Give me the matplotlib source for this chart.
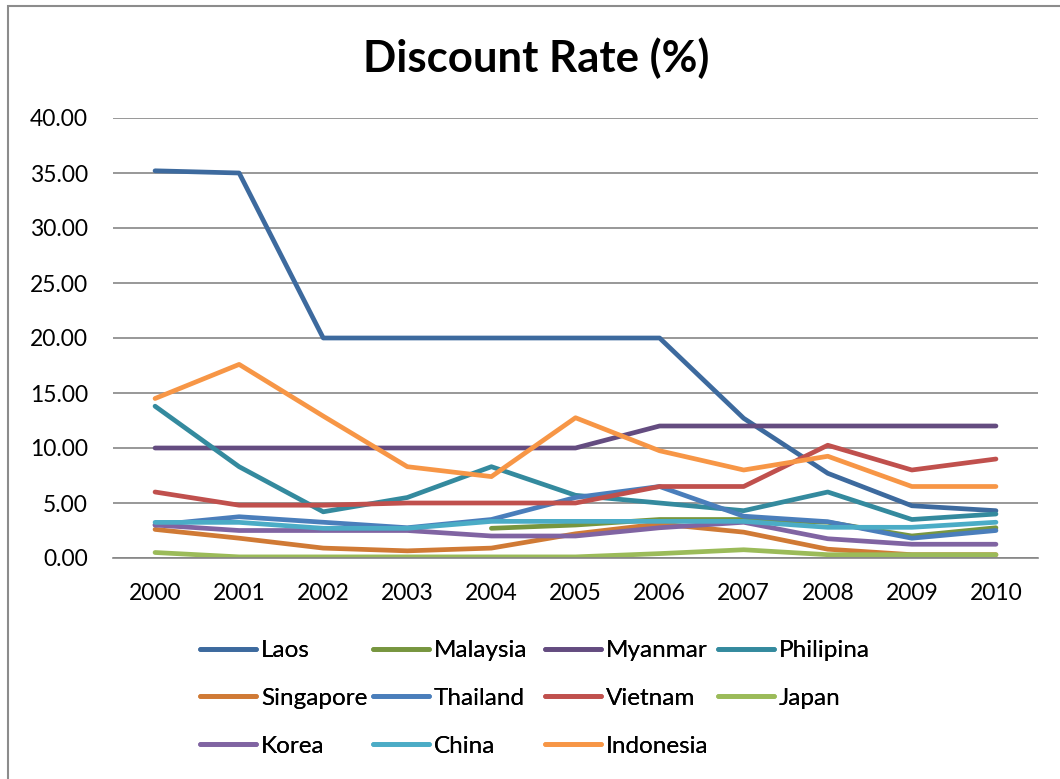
import matplotlib
matplotlib.use("Agg")
import matplotlib.pyplot as plt
from matplotlib.patches import Rectangle

plt.rcParams['font.family'] = ['Lato', 'DejaVu Sans']

years = ['2000', '2001', '2002', '2003', '2004', '2005', '2006', '2007', '2008', '2009', '2010']

laos      = [35.2, 35.0, 20.0, 20.0, 20.0, 20.0, 20.0, 12.7, 7.7, 4.75, 4.3]
malaysia  = [None, None, None, None, 2.7, 3.0, 3.5, 3.5, 3.25, 2.0, 2.75]
myanmar   = [10.0, 10.0, 10.0, 10.0, 10.0, 10.0, 12.0, 12.0, 12.0, 12.0, 12.0]
philipina = [13.8, 8.3, 4.2, 5.5, 8.3, 5.7, 5.0, 4.3, 6.0, 3.5, 4.0]
singapore = [2.6, 1.8, 0.9, 0.65, 0.9, 2.2, 3.1, 2.35, 0.8, 0.3, 0.3]
thailand  = [3.0, 3.75, 3.25, 2.75, 3.5, 5.5, 6.5, 3.8, 3.3, 1.8, 2.5]
vietnam   = [6.0, 4.8, 4.8, 5.0, 5.0, 5.0, 6.5, 6.5, 10.25, 8.0, 9.0]
japan     = [0.5, 0.1, 0.1, 0.1, 0.1, 0.1, 0.4, 0.75, 0.3, 0.3, 0.3]
korea     = [3.0, 2.5, 2.5, 2.5, 2.0, 2.0, 2.75, 3.25, 1.75, 1.25, 1.25]
china     = [3.24, 3.24, 2.7, 2.7, 3.33, 3.33, 3.33, 3.33, 2.79, 2.79, 3.25]
indonesia = [14.5, 17.6, 12.9, 8.3, 7.4, 12.75, 9.75, 8.0, 9.25, 6.5, 6.5]

names = ['Laos', 'Malaysia', 'Myanmar', 'Philipina', 'Singapore', 'Thailand',
         'Vietnam', 'Japan', 'Korea', 'China', 'Indonesia']
series = [laos, malaysia, myanmar, philipina, singapore, thailand,
          vietnam, japan, korea, china, indonesia]
colors = ['#3D6A9E', '#77963F', '#644C80', '#348A9E', '#D07A35', '#4A7EBB',
          '#C0504D', '#9BBB59', '#8064A2', '#4BACC6', '#F79646']

fig = plt.figure(figsize=(10.6, 7.79), dpi=100)
ax = fig.add_axes([113/1060, 1-558/779, 925/1060, 440/779])

# chart border (left and top visible)
fig.patches.append(Rectangle((8/1060, -0.1), 1.2, 1-6/779+0.1, transform=fig.transFigure,
                             fill=False, edgecolor='#8C8C8C', linewidth=1.5))

x = list(range(len(years)))
lines = {}
for name, vals, c in zip(names, series, colors):
    xs = [i for i, v in zip(x, vals) if v is not None]
    ys = [v for v in vals if v is not None]
    ln, = ax.plot(xs, ys, color=c, linewidth=3.4, solid_capstyle='round',
                  solid_joinstyle='round', label=name)
    lines[name] = ln

ax.set_xlim(-0.5, 10.5)
ax.set_ylim(0, 40)
ax.set_yticks(range(0, 41, 5))
ax.set_yticklabels(['%.2f' % v for v in range(0, 41, 5)])
ax.set_xticks(x)
ax.set_xticklabels(years)
ax.yaxis.grid(True, color='#868686', linewidth=1.2)
ax.set_axisbelow(True)
for s in ax.spines.values():
    s.set_visible(False)
ax.spines['bottom'].set_visible(True)
ax.spines['bottom'].set_color('#868686')
ax.spines['bottom'].set_linewidth(1.2)
ax.tick_params(axis='both', length=0, labelsize=16.5)
ax.tick_params(axis='y', pad=18)
ax.tick_params(axis='x', pad=18)

fig.text(536/1060, 1-58/779, 'Discount Rate (%)', fontsize=31.5, fontweight='bold',
         ha='center', va='center')

# Excel-style legend: 4 equal-width columns, filled row by row
columns = [['Laos', 'Singapore', 'Korea'],
           ['Malaysia', 'Thailand', 'China'],
           ['Myanmar', 'Vietnam', 'Indonesia'],
           ['Philipina', 'Japan']]
col_x = [200, 373, 545, 718]
for cx, col in zip(col_x, columns):
    leg = fig.legend([lines[n] for n in col], col, loc='upper left',
                     bbox_to_anchor=(cx/1060, 1-640/779), frameon=False,
                     fontsize=17.5, handlelength=2.3, handletextpad=0.2,
                     labelspacing=1.1, borderpad=0, borderaxespad=0)
    fig.add_artist(leg)

fig.savefig('out.png', dpi=100)
